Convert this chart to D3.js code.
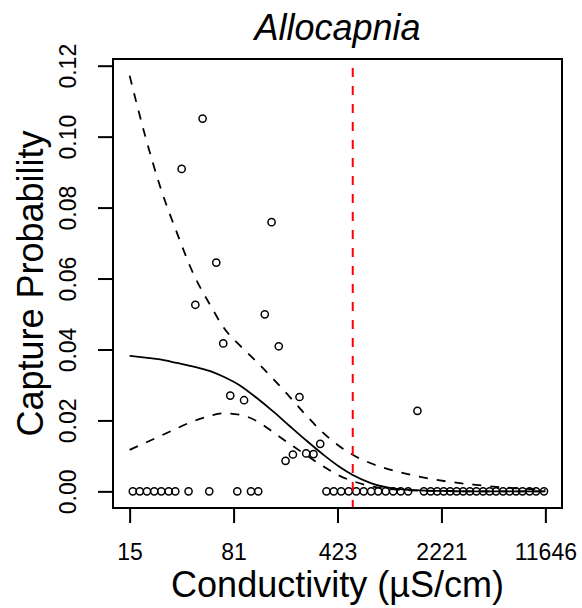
<!DOCTYPE html>
<html><head><meta charset="utf-8">
<script src="https://cdn.jsdelivr.net/npm/d3@7"></script>
<style>body{margin:0;background:#fff}svg{display:block}</style>
</head><body>
<svg id="chart" width="582" height="608"></svg>
<script>
// ---------- data ----------
const title = "Allocapnia";
const xLabel = "Conductivity (µS/cm)";
const yLabel = "Capture Probability";
const xTickValues = [15.4, 80.8, 423.4, 2221, 11646];
const xTickLabels = ["15", "81", "423", "2221", "11646"];
const yTickValues = [0, 0.02, 0.04, 0.06, 0.08, 0.10, 0.12];
const yTickLabels = ["0.00", "0.02", "0.04", "0.06", "0.08", "0.10", "0.12"];
const threshold = 540;

// sites where the taxon was captured
const presenceCond = [35.3, 49.3, 43.9, 61.3, 68.5, 76.6, 95.5, 132.8, 148, 166, 231, 185, 208, 257, 289, 321.5, 1515];
const presenceProb = [0.0909, 0.1051, 0.0526, 0.0645, 0.0417, 0.0270, 0.0257, 0.0499, 0.0759, 0.0409, 0.0266, 0.0086, 0.0104, 0.0107, 0.0105, 0.0134, 0.0227];

// sites with zero capture
const absenceCond = [16.2, 18.1, 20.3, 22.8, 25.5, 28.7, 31.9, 39.4, 54.8, 85.7, 106.6, 119.7,
  355, 399, 449, 506, 571, 643, 724, 810, 913, 1029, 1160, 1306,
  1678, 1870, 2074, 2301, 2552, 2830, 3139, 3496, 3879, 4315, 4786, 5307, 5932, 6581, 7300, 8094, 9055, 10041, 11400];
const absenceProb = absenceCond.map(() => 0);

// fitted curve and confidence band
const curveCond = [15.4, 19.8, 25.1, 32.8, 42.7, 55.7, 68.9, 89.9, 117, 153, 199, 260, 339, 442, 540, 713, 1092, 1582, 2420, 3698, 5661, 11646];
const fitProb   = [0.0382, 0.0377, 0.0372, 0.0362, 0.0352, 0.0339, 0.0323, 0.0298, 0.0263, 0.0224, 0.0183, 0.0142, 0.0103, 0.0068, 0.0046, 0.0024, 0.0007, 0.0003, 0.0001, 0.0000, 0.0000, 0.0000];
const lowerProb = [0.0117, 0.0137, 0.0156, 0.0178, 0.0198, 0.0213, 0.0220, 0.0216, 0.0198, 0.0166, 0.0133, 0.0101, 0.0070, 0.0043, 0.0029, 0.0015, 0.0005, 0.0002, 0.0001, 0.0000, 0.0000, 0.0000];
const upperProb = [0.1172, 0.1000, 0.0858, 0.0728, 0.0612, 0.0525, 0.0462, 0.0410, 0.0365, 0.0316, 0.0265, 0.0212, 0.0164, 0.0126, 0.0103, 0.0080, 0.0056, 0.0041, 0.0028, 0.0019, 0.0012, 0.0004];

// ---------- layout ----------
const plot = {left: 113, right: 562, top: 59, bottom: 508};
const font = "'Liberation Sans', Arial, Helvetica, sans-serif";
const svg = d3.select("#chart");

const xMin = d3.min(curveCond), xMax = d3.max(curveCond);
const lpad = 0.04 * Math.log(xMax / xMin);
const x = d3.scaleLog()
  .domain([xMin * Math.exp(-lpad), xMax * Math.exp(lpad)])
  .range([plot.left, plot.right]);

const yMin = 0, yMax = d3.max(upperProb);
const ypad = 0.04 * (yMax - yMin);
const y = d3.scaleLinear()
  .domain([yMin - ypad, yMax + ypad])
  .range([plot.bottom, plot.top]);

// points
svg.append("g").selectAll("circle")
  .data(absenceCond.map((c, i) => [c, absenceProb[i]]).concat(presenceCond.map((c, i) => [c, presenceProb[i]])))
  .join("circle")
  .attr("cx", d => x(d[0])).attr("cy", d => y(d[1])).attr("r", 3.6)
  .attr("fill", "none").attr("stroke", "#000").attr("stroke-width", 1.5);

// curves
const line = d3.line().x(d => x(d[0])).y(d => y(d[1])).curve(d3.curveMonotoneX);
function drawCurve(vals, dashed) {
  svg.append("path")
    .datum(curveCond.map((c, i) => [c, vals[i]]))
    .attr("d", line).attr("fill", "none").attr("stroke", "#000")
    .attr("stroke-width", 1.8)
    .attr("stroke-dasharray", dashed ? "9,9" : null);
}
drawCurve(fitProb, false);
drawCurve(lowerProb, true);
drawCurve(upperProb, true);

// threshold line
svg.append("line")
  .attr("x1", x(threshold)).attr("x2", x(threshold))
  .attr("y1", plot.top).attr("y2", plot.bottom)
  .attr("stroke", "#ff0000").attr("stroke-width", 2)
  .attr("stroke-dasharray", "9,9").attr("stroke-dashoffset", 9);

// box
svg.append("rect")
  .attr("x", plot.left).attr("y", plot.top)
  .attr("width", plot.right - plot.left).attr("height", plot.bottom - plot.top)
  .attr("fill", "none").attr("stroke", "#000").attr("stroke-width", 2);

// x axis
const gx = svg.append("g").attr("transform", `translate(0,${plot.bottom})`)
  .call(d3.axisBottom(x).tickValues(xTickValues).tickFormat((d, i) => xTickLabels[i]).tickSize(15));
gx.select(".domain").remove();
gx.selectAll(".tick line").attr("stroke", "#000").attr("stroke-width", 2);
gx.selectAll(".tick text").attr("y", 52).attr("dy", 0)
  .attr("font-family", font).attr("font-size", 23).attr("fill", "#000");

// y axis
const gy = svg.append("g").attr("transform", `translate(${plot.left},0)`)
  .call(d3.axisLeft(y).tickValues(yTickValues).tickFormat((d, i) => yTickLabels[i]).tickSize(15));
gy.select(".domain").remove();
gy.selectAll(".tick line").attr("stroke", "#000").attr("stroke-width", 2);
gy.selectAll(".tick text")
  .attr("transform", "rotate(-90)").attr("x", 0).attr("y", -37).attr("dy", 0)
  .attr("text-anchor", "middle")
  .attr("font-family", font).attr("font-size", 23).attr("fill", "#000");

// titles
const cx = (plot.left + plot.right) / 2, cy = (plot.top + plot.bottom) / 2;
svg.append("text").attr("x", cx).attr("y", 40).attr("text-anchor", "middle")
  .attr("font-family", font).attr("font-size", 36).attr("font-style", "italic").text(title);
svg.append("text").attr("x", cx).attr("y", 597).attr("text-anchor", "middle")
  .attr("font-family", font).attr("font-size", 36).text(xLabel);
svg.append("text").attr("transform", `translate(43,${cy}) rotate(-90)`).attr("text-anchor", "middle")
  .attr("font-family", font).attr("font-size", 36).text(yLabel);
</script>
</body></html>
